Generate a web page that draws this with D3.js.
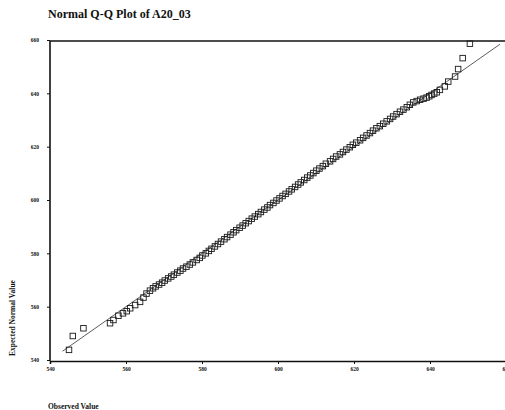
<!DOCTYPE html>
<html>
<head>
<meta charset="utf-8">
<script src="https://cdn.jsdelivr.net/npm/d3@7"></script>
<style>
  html, body { margin: 0; padding: 0; background: #fff; }
  svg { display: block; }
  .tick text { font-family: "Liberation Serif", serif; font-weight: bold; font-size: 5.5px; fill: #111; }
</style>
</head>
<body>
<svg id="chart" width="505" height="410"></svg>
<script>
// ---- data ----
const title = "Normal Q-Q Plot of A20_03";
const xLabel = "Observed Value";
const yLabel = "Expected Normal Value";
const xTicks = [540, 560, 580, 600, 620, 640, 660];
const yTicks = [540, 560, 580, 600, 620, 640, 660];
const refLine = [543.3, 658.4];
const observed = [
  545.0, 546.0, 548.8, 555.8, 556.7, 558.0, 559.2, 560.2, 561.1, 562.4,
  563.7, 564.6, 565.4, 566.3, 567.1, 567.8, 568.7, 569.5, 570.2, 571.1,
  571.9, 572.6, 573.5, 574.3, 575.0, 575.9, 576.8, 577.6, 578.6, 579.4,
  580.1, 581.0, 581.8, 582.5, 583.4, 584.2, 585.0, 585.9, 586.6, 587.5,
  588.3, 589.0, 589.9, 590.7, 591.5, 592.3, 593.1, 593.9, 594.8, 595.5,
  596.4, 597.2, 597.9, 598.8, 599.6, 600.4, 601.2, 602.0, 602.9, 603.6,
  604.5, 605.3, 606.0, 606.9, 607.7, 608.5, 609.3, 610.1, 610.9, 611.8,
  612.6, 613.7, 614.5, 615.3, 616.3, 617.1, 618.0, 618.9, 619.7, 620.6,
  621.6, 622.4, 623.3, 624.2, 625.0, 625.9, 626.8, 627.7, 628.6, 629.5,
  630.3, 631.2, 632.1, 633.0, 633.9, 634.7, 635.6, 636.5, 637.4, 638.3,
  639.1, 639.8, 640.4, 641.1, 641.8, 642.6, 643.9, 644.8, 646.6, 647.4,
  648.6, 650.5
];
const expected = [
  543.8, 549.0, 551.9, 553.8, 555.0, 556.6, 557.5, 558.3, 559.4, 560.6,
  561.8, 563.4, 564.9, 566.0, 566.9, 567.6, 568.3, 569.0, 569.8, 570.6,
  571.3, 572.0, 572.8, 573.5, 574.3, 575.0, 575.8, 576.6, 577.5, 578.3,
  579.2, 580.0, 580.9, 581.7, 582.6, 583.5, 584.4, 585.3, 586.1, 587.0,
  587.9, 588.7, 589.6, 590.4, 591.3, 592.1, 593.0, 593.8, 594.7, 595.5,
  596.4, 597.2, 598.1, 598.9, 599.8, 600.6, 601.5, 602.3, 603.2, 604.0,
  604.9, 605.8, 606.6, 607.5, 608.4, 609.2, 610.1, 611.0, 611.8, 612.7,
  613.6, 614.5, 615.4, 616.3, 617.1, 618.0, 618.9, 619.8, 620.7, 621.5,
  622.4, 623.3, 624.2, 625.1, 626.0, 626.9, 627.7, 628.6, 629.5, 630.4,
  631.3, 632.2, 633.1, 633.9, 634.8, 635.7, 636.6, 637.1, 637.6, 638.0,
  638.4, 638.9, 639.4, 639.9, 640.4, 641.3, 642.6, 644.4, 646.3, 649.1,
  653.2, 658.6
];

// ---- layout ----
const svg = d3.select("#chart");
const x = d3.scaleLinear().domain([540, 660]).range([50, 506]);
const y = d3.scaleLinear().domain([540, 660]).range([360, 40]);
const axisY = 361, topY = 41, leftX = 50;

svg.append("text")
  .attr("x", 48).attr("y", 18)
  .attr("font-family", "Liberation Serif, serif")
  .attr("font-weight", "bold")
  .attr("font-size", 12)
  .attr("fill", "#111")
  .text(title);

// top frame line
svg.append("line")
  .attr("x1", leftX).attr("x2", 505)
  .attr("y1", topY).attr("y2", topY)
  .attr("stroke", "#111").attr("stroke-width", 1.6);

// x axis
const gx = svg.append("g").attr("transform", `translate(0,${axisY})`)
  .call(d3.axisBottom(x).tickValues(xTicks).tickSize(3).tickPadding(3).tickFormat(d3.format("d")));
gx.select(".domain").attr("stroke", "#111").attr("stroke-width", 1.6);
gx.selectAll(".tick line").attr("stroke", "#111").attr("stroke-width", 1);

// y axis
const gy = svg.append("g").attr("transform", `translate(${leftX},0)`)
  .call(d3.axisLeft(y).tickValues(yTicks).tickSize(3).tickPadding(8).tickFormat(d3.format("d")));
gy.select(".domain").attr("d", `M0,${topY}V${axisY}`).attr("stroke", "#111").attr("stroke-width", 1.6);
gy.selectAll(".tick line").attr("stroke", "#111").attr("stroke-width", 1);

// reference line (y = x)
svg.append("line")
  .attr("x1", x(refLine[0])).attr("y1", y(refLine[0]))
  .attr("x2", x(refLine[1])).attr("y2", y(refLine[1]))
  .attr("stroke", "#333").attr("stroke-width", 0.8);

// points
const s = 5.5;
svg.append("g").selectAll("rect")
  .data(observed.map((o, i) => [o, expected[i]]))
  .join("rect")
  .attr("x", d => x(d[0]) - s / 2)
  .attr("y", d => y(d[1]) - s / 2)
  .attr("width", s).attr("height", s)
  .attr("fill", "none")
  .attr("stroke", "#1a1a1a")
  .attr("stroke-width", 0.9);

// axis titles
svg.append("text")
  .attr("transform", "translate(15,318) rotate(-90)")
  .attr("text-anchor", "middle")
  .attr("font-family", "Liberation Serif, serif")
  .attr("font-weight", "bold")
  .attr("font-size", 7.5)
  .attr("fill", "#111")
  .text(yLabel);

svg.append("text")
  .attr("x", 48).attr("y", 409)
  .attr("font-family", "Liberation Serif, serif")
  .attr("font-weight", "bold")
  .attr("font-size", 7.5)
  .attr("fill", "#111")
  .text(xLabel);
</script>
</body>
</html>
